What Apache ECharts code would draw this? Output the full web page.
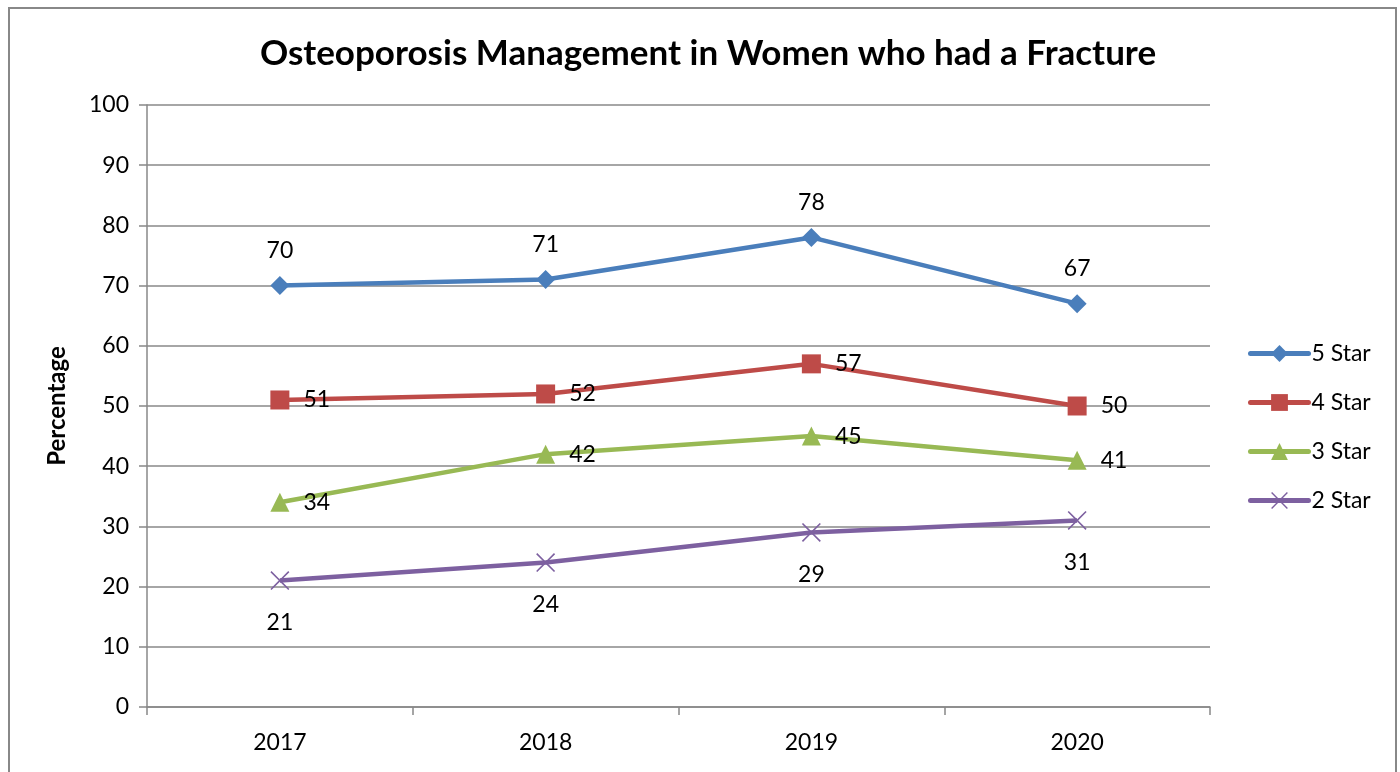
<!DOCTYPE html>
<html><head><meta charset="utf-8">
<script src="https://cdn.jsdelivr.net/npm/echarts@6/dist/echarts.min.js"></script>
<style>html,body{margin:0;padding:0;background:#fff}#c{width:1400px;height:772px}</style>
</head><body><div id="c"></div>
<script>
const categories = ['2017', '2018', '2019', '2020'];
const star5 = [70, 71, 78, 67];
const star4 = [51, 52, 57, 50];
const star3 = [34, 42, 45, 41];
const star2 = [21, 24, 29, 31];
const seriesNames = ['5 Star', '4 Star', '3 Star', '2 Star'];
const yTicks = [0, 10, 20, 30, 40, 50, 60, 70, 80, 90, 100];

const FONT = 'Lato, "Open Sans", sans-serif';
const crossPath = 'path://M0,1.2 L1.2,0 L10,8.8 L18.8,0 L20,1.2 L11.2,10 L20,18.8 L18.8,20 L10,11.2 L1.2,20 L0,18.8 L8.8,10 Z';
const labelBase = {show: true, color: '#000', fontSize: 23, fontFamily: FONT};

function mk(name, data, color, symbol, size, pos, dist) {
  return {
    name, type: 'line', data, symbol, symbolSize: size,
    lineStyle: {color, width: 4.5},
    itemStyle: {color, borderWidth: 0},
    label: Object.assign({}, labelBase, {position: pos, distance: dist}),
    emphasis: {disabled: true}
  };
}

const chart = echarts.init(document.getElementById('c'), null, {renderer: 'canvas'});
chart.setOption({
  animation: false,
  backgroundColor: '#fff',
  title: {
    text: 'Osteoporosis Management in Women who had a Fracture',
    left: 703, top: 31, textAlign: 'center',
    textStyle: {fontSize: 35, fontWeight: 'bold', color: '#000', fontFamily: FONT}
  },
  graphic: [{
    type: 'rect', shape: {x: 9, y: 8, width: 1387, height: 800},
    style: {fill: 'none', stroke: '#888', lineWidth: 2}, silent: true
  }],
  legend: {
    orient: 'vertical', left: 1243, top: 337, itemGap: 26,
    itemWidth: 58, itemHeight: 21,
    data: seriesNames,
    lineStyle: {width: 5, cap: 'round'},
    textStyle: {fontSize: 23, color: '#000', fontFamily: FONT, padding: [0, 0, 0, -2]}
  },
  grid: {left: 147, right: 190, top: 105, bottom: 65},
  xAxis: {
    type: 'category', data: categories, boundaryGap: true,
    axisLine: {lineStyle: {color: '#888', width: 1.5}},
    axisTick: {show: true, length: 8, inside: false, lineStyle: {color: '#888', width: 1.5}},
    axisLabel: {fontSize: 23, color: '#000', fontFamily: FONT, margin: 24}
  },
  yAxis: {
    type: 'value', min: yTicks[0], max: yTicks[yTicks.length - 1], interval: 10,
    name: 'Percentage', nameLocation: 'middle', nameGap: 78,
    nameTextStyle: {fontSize: 24, fontWeight: 'bold', color: '#000', fontFamily: FONT},
    axisLine: {show: true, lineStyle: {color: '#888', width: 1.5}},
    axisTick: {show: true, length: 8, lineStyle: {color: '#888', width: 1.5}},
    splitLine: {lineStyle: {color: '#888', width: 1.5}},
    axisLabel: {fontSize: 23, color: '#000', fontFamily: FONT, margin: 18}
  },
  series: [
    mk(seriesNames[0], star5, '#4A7EBB', 'diamond', 19, 'top', 14),
    mk(seriesNames[1], star4, '#BE4B48', 'rect', 19, 'right', 14),
    mk(seriesNames[2], star3, '#98B954', 'triangle', 19, 'right', 14),
    mk(seriesNames[3], star2, '#7D60A0', crossPath, 19, 'bottom', 21)
  ]
});
</script></body></html>
